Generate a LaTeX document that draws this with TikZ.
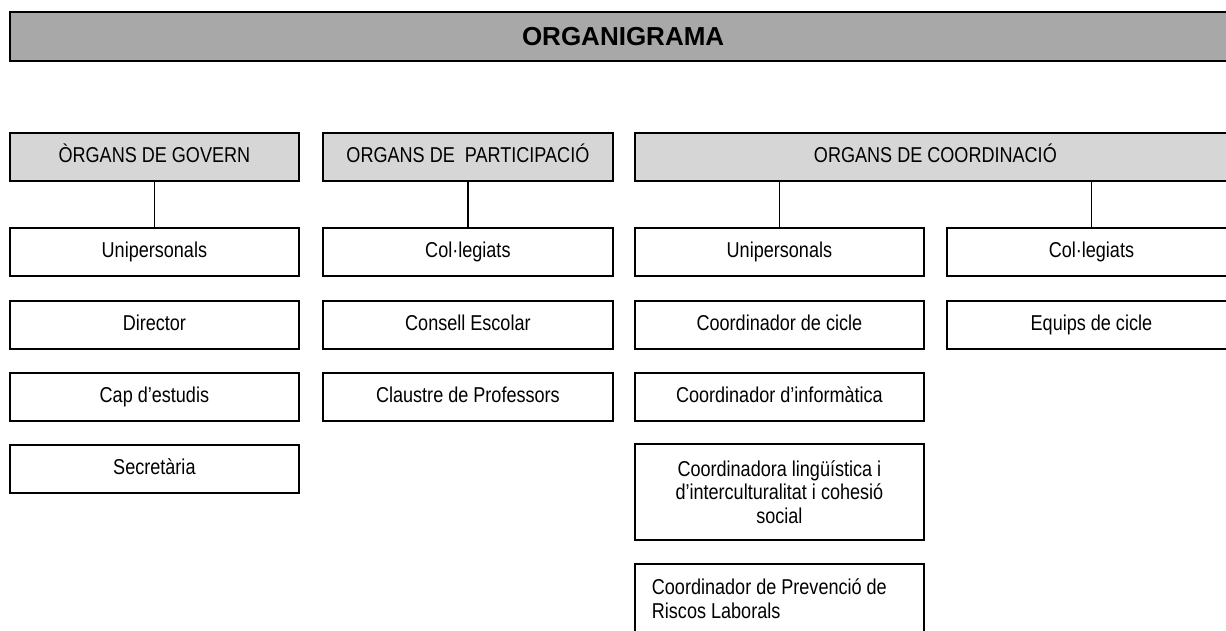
\documentclass[tikz,border=0pt]{standalone}
\usepackage{fontspec}
\setmainfont{Liberation Sans}[FakeStretch=0.84]
\newfontfamily\titlefont{Liberation Sans}
\begin{document}
\begin{tikzpicture}[x=1pt,y=-1pt,
  box/.style={draw=black, line width=1.8pt, anchor=north west, inner sep=0pt,
    minimum width=289pt, minimum height=48pt, align=center,
    text height=15.5pt, text depth=4.5pt,
    font=\fontsize{21.5}{23.5}\selectfont},
  multi/.style={text height={}, text depth={}},
  head/.style={box, fill=gray!32},
  banner/.style={draw=black, line width=2.2pt, anchor=north west, inner sep=0pt,
    fill=gray!68, minimum width=1226pt, minimum height=49pt,
    font=\titlefont\bfseries\fontsize{26}{30}\selectfont},
  link/.style={line width=1.8pt}]
\clip (0,0) rectangle (1226,631);
\fill[white] (0,0) rectangle (1226,631);
\node[banner] (title) at (9,11) {ORGANIGRAMA};
% headers
\node[head] (gh) at (9,132) {ÒRGANS DE GOVERN};
\node[head, minimum width=290pt] (ph) at (322,132) {ORGANS DE\ \ PARTICIPACIÓ};
\node[head, minimum width=601pt] (ch) at (634,132) {ORGANS DE COORDINACIÓ};
% govern
\node[box] (gu) at (9,227) {Unipersonals};
\node[box] (gd) at (9,300) {Director};
\node[box] (gc) at (9,372) {Cap d’estudis};
\node[box] (gs) at (9,444) {Secretària};
% participacio
\node[box, minimum width=290pt] (pc) at (322,227) {Col·legiats};
\node[box, minimum width=290pt] (pce) at (322,300) {Consell Escolar};
\node[box, minimum width=290pt] (pcl) at (322,372) {Claustre de Professors};
% coordinacio
\node[box] (cu) at (634,227) {Unipersonals};
\node[box] (ccc) at (634,300) {Coordinador de cicle};
\node[box] (cci) at (634,372) {Coordinador d’informàtica};
\node[box, multi, minimum height=96pt] (cl) at (634,443) {Coordinadora lingüística i\\d’interculturalitat i cohesió\\social};
\node[box, multi, minimum height=70pt, text width=255pt, inner xsep=17pt, align=flush left] (cp) at (634,563) {Coordinador de Prevenció de\\Riscos Laborals};
\node[box] (cc) at (946,227) {Col·legiats};
\node[box] (ce) at (946,300) {Equips de cicle};
% connectors
\draw[link] (gh.south) -- (gu.north);
\draw[link] (ph.south) -- (pc.north);
\draw[link] (ch.south -| cu.north) -- (cu.north);
\draw[link] (ch.south -| cc.north) -- (cc.north);
\end{tikzpicture}
\end{document}
